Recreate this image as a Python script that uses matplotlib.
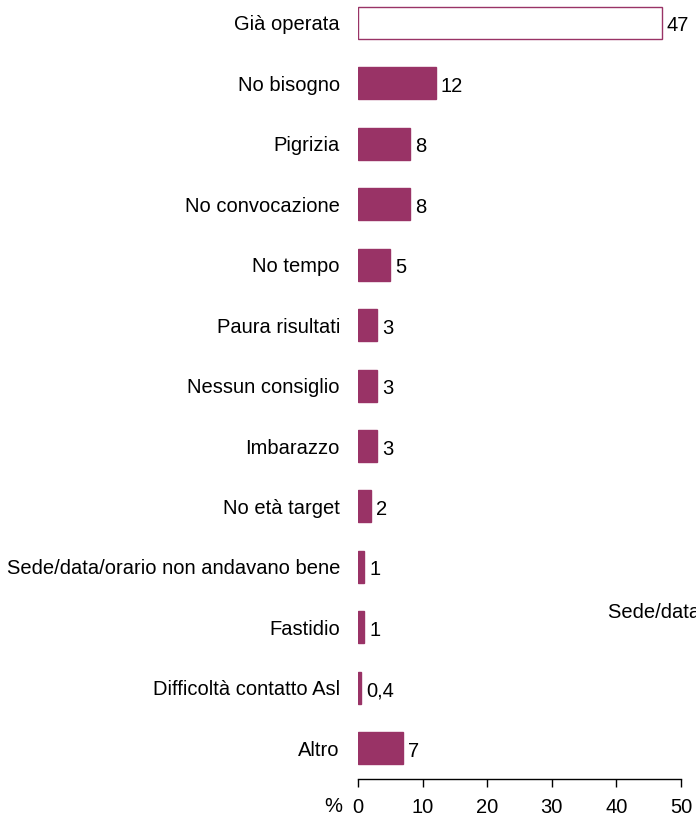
import matplotlib
matplotlib.use("Agg")
import matplotlib.pyplot as plt

plt.rcParams["font.family"] = ["Liberation Sans", "DejaVu Sans"]

# dati
categorie = ["Già operata", "No bisogno", "Pigrizia", "No convocazione", "No tempo",
             "Paura risultati", "Nessun consiglio", "Imbarazzo", "No età target",
             "Sede/data/orario non andavano bene", "Fastidio",
             "Difficoltà contatto Asl", "Altro"]
valori = [47, 12, 8, 8, 5, 3, 3, 3, 2, 1, 1, 0.4, 7]
etichette = ["47", "12", "8", "8", "5", "3", "3", "3", "2", "1", "1", "0,4", "7"]
x_ticks = [0, 10, 20, 30, 40, 50]

colore = "#993366"
fs = 14.5

fig = plt.figure(figsize=(6.96, 8.18), dpi=100)
ax = fig.add_axes([358 / 696, 1 - 779 / 818, 323 / 696, 779 / 818])

pos = list(range(len(categorie)))
fill = ["white"] + [colore] * (len(categorie) - 1)
ax.barh(pos, valori, height=0.53, color=fill, edgecolor=colore, linewidth=1)

# etichette dei valori a destra delle barre
for p, v, t in zip(pos, valori, etichette):
    ax.text(v + 0.8, p + 0.05, t, va="center", ha="left", fontsize=fs, color="black")

ax.set_ylim(12.51, -0.38)
ax.set_xlim(0, 50)
ax.set_yticks(pos)
ax.set_yticklabels(categorie, fontsize=fs)
ax.tick_params(axis="y", length=0, pad=13)
ax.set_xticks(x_ticks)
ax.set_xticklabels([str(t) for t in x_ticks], fontsize=fs)
ax.tick_params(axis="x", length=6, width=1, pad=8)

for s in ["top", "right", "left"]:
    ax.spines[s].set_visible(False)
ax.spines["bottom"].set_linewidth(1)

fig.text(333 / 696, 1 - 806 / 818, "%", ha="center", va="center", fontsize=fs)
fig.text(608 / 696, 1 - 613 / 818, "Sede/data/orario non andavano bene",
         ha="left", va="center", fontsize=fs)

fig.savefig("out.png", dpi=100)
